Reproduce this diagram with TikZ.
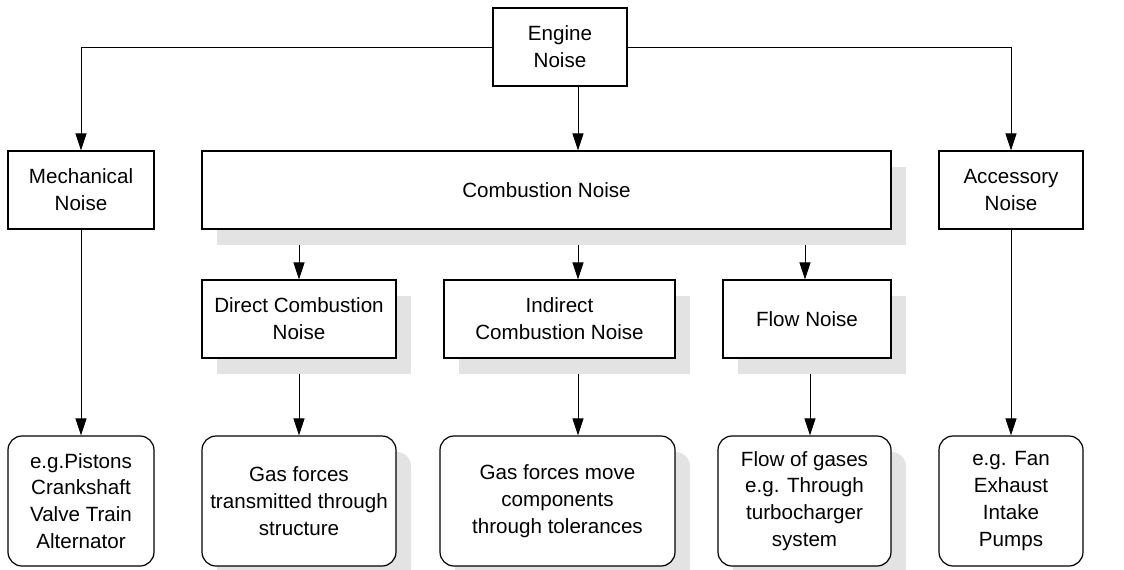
\documentclass[tikz,border=0pt]{standalone}
\usepackage{fontspec}
\setmainfont{Liberation Sans}
\usetikzlibrary{arrows.meta,shadows,backgrounds}

\begin{document}
\begin{tikzpicture}[x=0.5pt, y=-0.5pt,
    box/.style={draw, line width=0.6pt, fill=white, align=center, inner sep=0pt,
      minimum height=39pt, font=\fontsize{10.3}{13.4}\selectfont},
    shade/.style={drop shadow={shadow xshift=7.5pt, shadow yshift=-8pt, fill=black!11, opacity=1}},
    shbox/.style={box, shade},
    rbox/.style={box, rounded corners=7pt, minimum height=65pt},
    arr/.style={-{Triangle[length=8.5pt, width=5.5pt]}, line width=0.5pt}]
  \useasboundingbox (0,0) rectangle (1124,569);

  % top
  \node[box, minimum width=67pt] (engine) at (560,47) {Engine\\Noise};

  % second row
  \node[box, minimum width=73pt] (mech) at (81,190) {Mechanical\\Noise};
  \node[shbox, minimum width=344.5pt] (comb) at (546.5,190) {Combustion Noise};
  \node[box, minimum width=72pt] (acc) at (1011,190) {Accessory\\Noise};

  % third row
  \node[shbox, minimum width=97pt] (direct) at (299,319) {Direct Combustion\\Noise};
  \node[shbox, minimum width=115.5pt] (indirect) at (559.5,319) {Indirect\\Combustion Noise};
  \node[shbox, minimum width=84pt] (flow) at (807,319) {Flow Noise};

  % examples
  \node[rbox, minimum width=73pt] (pistons) at (81,501) {e.g.Pistons\\Crankshaft\\Valve Train\\Alternator};
  \node[rbox, shade, minimum width=97pt] (gasa) at (299,501) {Gas forces\\transmitted through\\structure};
  \node[rbox, shade, minimum width=117.5pt] (gasb) at (557.5,501) {Gas forces move\\components\\through tolerances};
  \node[rbox, shade, minimum width=86.5pt] (flowgas) at (804.5,501) {Flow of gases\\e.g. Through\\turbocharger\\system};
  \node[rbox, minimum width=72pt] (fan) at (1011,501) {e.g. Fan\\Exhaust\\Intake\\Pumps};

  \coordinate (xa) at (578,0);
  \coordinate (xb) at (805,0);
  \coordinate (xc) at (810,0);

  \begin{scope}[on background layer]
    \draw[arr] (engine.west) -| (mech.north);
    \draw[arr] (engine.east) -| (acc.north);
    \draw[arr] (engine.south -| xa) -- (comb.north -| xa);
    \draw[arr] (comb.south -| direct.north) -- (direct.north);
    \draw[arr] (comb.south -| xa) -- (indirect.north -| xa);
    \draw[arr] (comb.south -| xb) -- (flow.north -| xb);
    \draw[arr] (mech) -- (pistons);
    \draw[arr] (direct) -- (gasa.north -| direct);
    \draw[arr] (indirect.south -| xa) -- (gasb.north -| xa);
    \draw[arr] (flow.south -| xc) -- (flowgas.north -| xc);
    \draw[arr] (acc) -- (fan);
  \end{scope}
\end{tikzpicture}
\end{document}
